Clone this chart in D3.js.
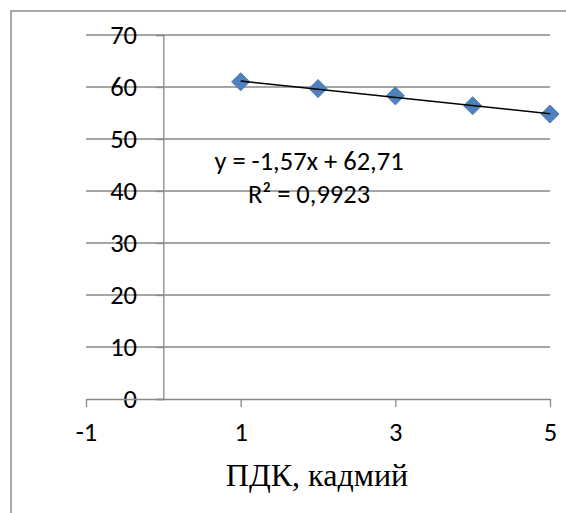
<!DOCTYPE html>
<html>
<head>
<meta charset="utf-8">
<script src="https://cdn.jsdelivr.net/npm/d3@7"></script>
<style>
	body { margin: 0; background: #fff; }
	svg { display: block; }
	text { font-family: Carlito, Lato, "Liberation Sans", sans-serif; fill: #000; }
</style>
</head>
<body>
<svg></svg>
<script>
var width = 566;
var height = 513;

// data
var xValues = [1, 2, 3, 4, 5];
var yValues = [61.0, 59.7, 58.3, 56.4, 54.8];
var xTicks = [-1, 1, 3, 5];
var yTicks = [0, 10, 20, 30, 40, 50, 60, 70];
var trendSlope = -1.57;
var trendIntercept = 62.71;
var equationLines = ['y = -1,57x + 62,71', 'R² = 0,9923'];
var xTitle = 'ПДК, кадмий';

var labelFont = 'Carlito, Lato, "Liberation Sans", sans-serif';
var labelSize = 26.5;

var svg = d3.select('svg')
	.attr('width', width)
	.attr('height', height);

// chart frame (only top and left edges fall inside the picture)
svg.append('rect')
	.attr('x', 11)
	.attr('y', 11)
	.attr('width', 600)
	.attr('height', 600)
	.attr('fill', 'none')
	.attr('stroke', '#8c8c8c')
	.attr('stroke-width', 1.5);

var x = d3.scaleLinear()
	.range([86, 550])
	.domain([-1, 5]);

var y = d3.scaleLinear()
	.range([399, 35])
	.domain([0, 70]);

var grey = '#898989';

// horizontal gridlines
svg.append('g')
	.selectAll('line')
	.data(yTicks.slice(1))
	.join('line')
	.attr('x1', x(-1))
	.attr('x2', x(5))
	.attr('y1', function(d) { return y(d); })
	.attr('y2', function(d) { return y(d); })
	.attr('stroke', grey)
	.attr('stroke-width', 1.3);

// y axis at x = 0
var yAxis = d3.axisLeft()
	.scale(y)
	.tickValues(yTicks)
	.tickSize(7)
	.tickFormat('');

var gy = svg.append('g')
	.attr('transform', `translate(${x(0)},0)`)
	.call(yAxis);
gy.selectAll('path, line').attr('stroke', grey).attr('stroke-width', 1.3);

// y tick labels sit over the gridlines
svg.append('g')
	.selectAll('text')
	.data(yTicks)
	.join('text')
	.attr('x', 137)
	.attr('y', function(d) { return y(d); })
	.attr('dy', '0.33em')
	.attr('text-anchor', 'end')
	.style('font-size', labelSize + 'px')
	.text(function(d) { return d; });

// x axis at y = 0
var xAxis = d3.axisBottom()
	.scale(x)
	.tickValues(xTicks)
	.tickSize(8)
	.tickPadding(15)
	.tickSizeOuter(0)
	.tickFormat(function(d) { return String(d); });

var gx = svg.append('g')
	.attr('transform', `translate(0,${y(0)})`)
	.call(xAxis);
gx.select('.domain').attr('stroke', grey).attr('stroke-width', 1.3);
gx.selectAll('line').attr('stroke', grey).attr('stroke-width', 1.3);
gx.selectAll('text')
	.style('font-size', labelSize + 'px')
	.style('font-family', labelFont)
	.attr('fill', '#000');

// axis title
svg.append('text')
	.attr('x', 317)
	.attr('y', 486)
	.attr('text-anchor', 'middle')
	.style('font-family', '"Liberation Serif", "Times New Roman", serif')
	.style('font-size', '32px')
	.text(xTitle);

// linear trendline
var trendData = [1, 5].map(function(t) {
	return { x: t, y: trendIntercept + trendSlope * t };
});

var lineFunction = d3.line()
	.x(function(d) { return x(d.x); })
	.y(function(d) { return y(d.y); });

// markers
var points = xValues.map(function(v, i) { return { x: v, y: yValues[i] }; });

svg.append('g')
	.selectAll('path')
	.data(points)
	.join('path')
	.attr('d', d3.symbol().type(d3.symbolSquare).size(165))
	.attr('transform', function(d) { return `translate(${x(d.x)},${y(d.y)}) rotate(45)`; })
	.attr('fill', '#4f81bd')
	.attr('stroke', '#4a7ab3')
	.attr('stroke-width', 0.8);

svg.append('path')
	.attr('d', lineFunction(trendData))
	.attr('stroke', '#000')
	.attr('stroke-width', 1.5)
	.attr('fill', 'none');

// trendline equation
svg.append('text')
	.attr('x', 309)
	.attr('y', 170)
	.attr('text-anchor', 'middle')
	.style('font-size', labelSize + 'px')
	.text(equationLines[0]);

svg.append('text')
	.attr('x', 309)
	.attr('y', 203)
	.attr('text-anchor', 'middle')
	.style('font-size', labelSize + 'px')
	.text(equationLines[1]);
</script>
</body>
</html>
